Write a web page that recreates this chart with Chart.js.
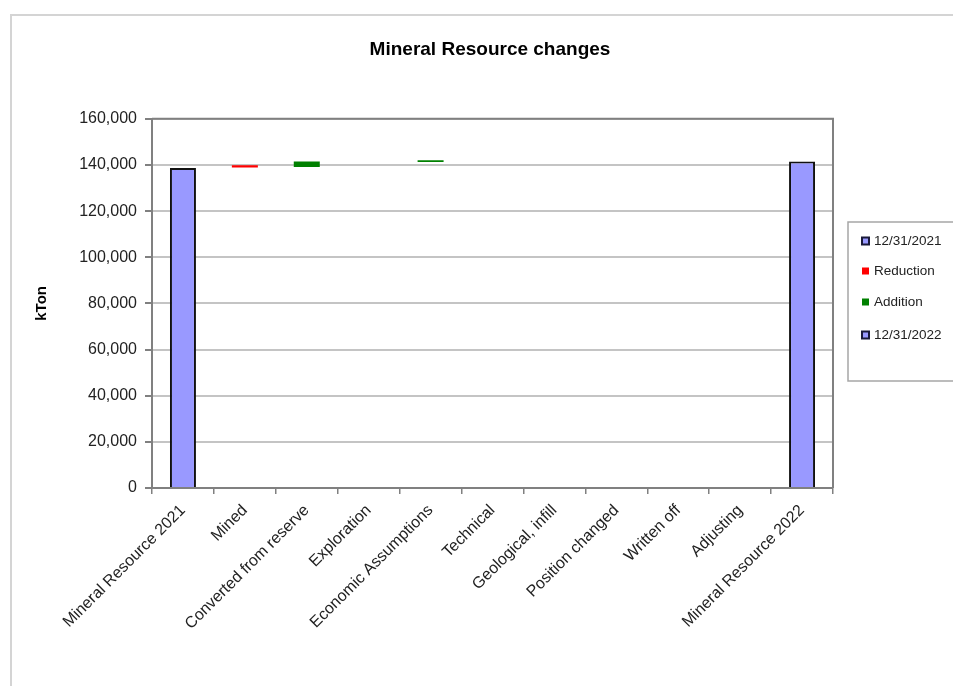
<!DOCTYPE html>
<html>
<head>
<meta charset="utf-8">
<script src="https://cdn.jsdelivr.net/npm/chart.js@4.4.0/dist/chart.umd.min.js"></script>
<style>
  html, body { margin: 0; padding: 0; background: #fff; }
  #wrap { position: relative; width: 953px; height: 686px; overflow: hidden; }
  #frame { position: absolute; left: 10px; top: 14px; width: 960px; height: 700px; border-left: 2px solid #d4d4d4; border-top: 2px solid #d4d4d4; }
  #mineralChart { position: absolute; left: 0; top: 0; }
</style>
</head>
<body>
<div id="wrap">
  <div id="frame"></div>
  <canvas id="mineralChart" width="953" height="686"></canvas>
</div>
<script>
const categories = [
    'Mineral Resource 2021', 'Mined', 'Converted from reserve', 'Exploration',
    'Economic Assumptions', 'Technical', 'Geological, infill', 'Position changed',
    'Written off', 'Adjusting', 'Mineral Resource 2022'
];
// invisible floor each change bar sits on
const baseValues   = [0, 138900, 139100, 0, 141300, 0, 0, 0, 0, 0, 0];
const start2021    = [138700, 0, 0, 0, 0, 0, 0, 0, 0, 0, 0];
const reduction    = [0, 1000, 0, 0, 0, 0, 0, 0, 0, 0, 0];
const addition     = [0, 0, 2400, 0, 700, 0, 0, 0, 0, 0, 0];
const end2022      = [0, 0, 0, 0, 0, 0, 0, 0, 0, 0, 141500];
const yTicks = [0, 20000, 40000, 60000, 80000, 100000, 120000, 140000, 160000];

const FONT = "'Liberation Sans', Arial, sans-serif";
const blueFill = '#9999ff';

const barCommon = { barPercentage: 0.42, categoryPercentage: 1.0 };

const plotFrame = {
    id: 'plotFrame',
    afterDatasetsDraw(chart) {
        const { ctx, chartArea: a } = chart;
        ctx.save();
        ctx.strokeStyle = '#808080';
        ctx.lineWidth = 2;
        ctx.beginPath();
        ctx.moveTo(a.left, a.top);
        ctx.lineTo(a.right, a.top);
        ctx.lineTo(a.right, a.bottom);
        ctx.stroke();
        ctx.restore();
    }
};

const boxLegend = {
    id: 'boxLegend',
    afterDraw(chart) {
        const ctx = chart.ctx;
        const items = chart.data.datasets.filter(d => d.inLegend);
        const x = 848, y = 222, w = 130, h = 159;
        ctx.save();
        ctx.strokeStyle = '#a6a6a6';
        ctx.lineWidth = 1.5;
        ctx.strokeRect(x, y, w, h);
        ctx.font = '13.5px ' + FONT;
        ctx.textBaseline = 'middle';
        ctx.textAlign = 'left';
        const rows = [241, 271, 302, 335];
        items.forEach((d, i) => {
            const cy = rows[i];
            ctx.fillStyle = d.backgroundColor;
            ctx.fillRect(862, cy - 3.5, 7, 7);
            if (d.borderWidth) {
                ctx.strokeStyle = '#1a1a3a';
                ctx.lineWidth = 2;
                ctx.strokeRect(862, cy - 3.5, 7, 7);
            }
            ctx.fillStyle = '#222';
            ctx.fillText(d.label, 874, cy);
        });
        ctx.restore();
    }
};

const ctx = document.getElementById('mineralChart').getContext('2d');
const chart = new Chart(ctx, {
    type: 'bar',
    data: {
        labels: categories,
        datasets: [
            { label: 'base', data: baseValues, backgroundColor: 'rgba(0,0,0,0)', borderWidth: 0, inLegend: false, ...barCommon },
            { label: '12/31/2021', data: start2021, backgroundColor: blueFill, borderColor: '#111', borderWidth: 2, inLegend: true, ...barCommon },
            { label: 'Reduction', data: reduction, backgroundColor: '#ff0000', borderWidth: 0, inLegend: true, ...barCommon },
            { label: 'Addition', data: addition, backgroundColor: '#008000', borderWidth: 0, inLegend: true, ...barCommon },
            { label: '12/31/2022', data: end2022, backgroundColor: blueFill, borderColor: '#111', borderWidth: 2, inLegend: true, ...barCommon },
        ],
    },
    options: {
        responsive: false,
        animation: false,
        layout: { padding: { left: 27, right: 0, top: 0, bottom: 0 } },
        plugins: {
            legend: { display: false },
            tooltip: { enabled: false },
            title: {
                display: true,
                text: 'Mineral Resource changes',
                color: '#000',
                font: { family: FONT, size: 19, weight: 'bold' },
                padding: { top: 38, bottom: 58 }
            }
        },
        scales: {
            x: {
                stacked: true,
                afterFit: (scale) => { scale.height = 198; },
                grid: { drawOnChartArea: false, drawTicks: true, tickLength: 6, tickColor: '#808080', lineWidth: 1.5 },
                border: { color: '#808080', width: 2 },
                ticks: {
                    autoSkip: false, minRotation: 45, maxRotation: 45, padding: 7,
                    color: '#222', font: { family: FONT, size: 16 }
                }
            },
            y: {
                stacked: true,
                min: 0,
                max: 160000,
                afterFit: (scale) => { scale.width = 125; },
                afterBuildTicks: (scale) => { scale.ticks = yTicks.map(v => ({ value: v })); },
                grid: { color: '#c4c4c4', lineWidth: 2, tickColor: '#808080', tickLength: 7 },
                border: { color: '#808080', width: 2 },
                ticks: {
                    padding: 8, color: '#222', font: { family: FONT, size: 16 },
                    callback: (v) => v.toLocaleString('en-US')
                },
                title: {
                    display: true, text: 'kTon', color: '#000',
                    font: { family: FONT, size: 15, weight: 'bold' },
                    padding: { top: 6, bottom: 0 }
                }
            },
            // empty right-hand gutter where the legend box sits
            gutter: {
                type: 'linear',
                position: 'right',
                display: true,
                afterFit: (scale) => { scale.width = 120; },
                grid: { drawOnChartArea: false, drawTicks: false },
                border: { display: false },
                ticks: { display: false }
            }
        }
    },
    plugins: [plotFrame, boxLegend]
});
</script>
</body>
</html>
